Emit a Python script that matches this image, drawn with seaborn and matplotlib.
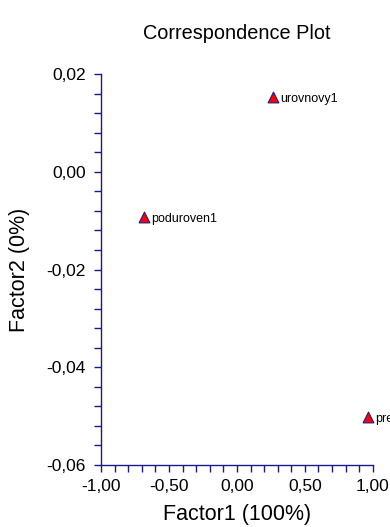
import numpy as np
import matplotlib
matplotlib.use("Agg")
import matplotlib.pyplot as plt
import seaborn as sns
import pandas as pd
from matplotlib.ticker import FuncFormatter, MultipleLocator

# Данные точек
labels = ["urovnovy1", "poduroven1", "prevysuje1"]
factor1 = [0.265, -0.684, 0.963]
factor2 = [0.0152, -0.0093, -0.0502]

df = pd.DataFrame({"label": labels, "Factor1": factor1, "Factor2": factor2})

sns.set_theme(style="white")
plt.rcParams["font.family"] = ["Liberation Sans", "DejaVu Sans"]
plt.rcParams["text.color"] = "black"
plt.rcParams["axes.labelcolor"] = "black"
plt.rcParams["xtick.labelcolor"] = "black"
plt.rcParams["ytick.labelcolor"] = "black"

AXIS_COLOR = "#1a1a8c"

fig = plt.figure(figsize=(3.9, 5.27), dpi=100)
ax = fig.add_axes([0.259, 0.1176, 0.697, 0.742])

sns.scatterplot(
    data=df, x="Factor1", y="Factor2", marker="^", s=60,
    color="red", edgecolor="#1a1a8c", linewidth=0.8, ax=ax, clip_on=False, zorder=3
)
for _, row in df.iterrows():
    ax.annotate(row["label"], (row["Factor1"], row["Factor2"]), xytext=(5, -1),
                textcoords="offset points", fontsize=9, va="center", ha="left",
                color="black", annotation_clip=False)

ax.set_xlim(-1, 1)
ax.set_ylim(-0.06, 0.02)

comma = lambda v, pos: f"{v:.2f}".replace(".", ",").replace("-0,00", "0,00")
ax.xaxis.set_major_locator(MultipleLocator(0.5))
ax.xaxis.set_minor_locator(MultipleLocator(0.1))
ax.yaxis.set_major_locator(MultipleLocator(0.02))
ax.yaxis.set_minor_locator(MultipleLocator(0.004))
ax.xaxis.set_major_formatter(FuncFormatter(comma))
ax.yaxis.set_major_formatter(FuncFormatter(comma))

for side in ["top", "right"]:
    ax.spines[side].set_visible(False)
for side in ["left", "bottom"]:
    ax.spines[side].set_color(AXIS_COLOR)
    ax.spines[side].set_linewidth(1.0)

ax.tick_params(which="both", direction="out", color=AXIS_COLOR, width=1.0,
               labelsize=12.5, labelcolor="black", left=True, bottom=True)
ax.tick_params(which="both", length=5)
ax.tick_params(axis="x", pad=5)
ax.tick_params(axis="y", pad=6)

ax.set_xlabel("Factor1 (100%)", fontsize=15.5, labelpad=7, color="black")
ax.set_ylabel("Factor2 (0%)", fontsize=15.5, labelpad=12, color="black")
ax.set_title("Correspondence Plot", fontsize=14.3, pad=25, color="black")

fig.savefig("out.png", dpi=100)
